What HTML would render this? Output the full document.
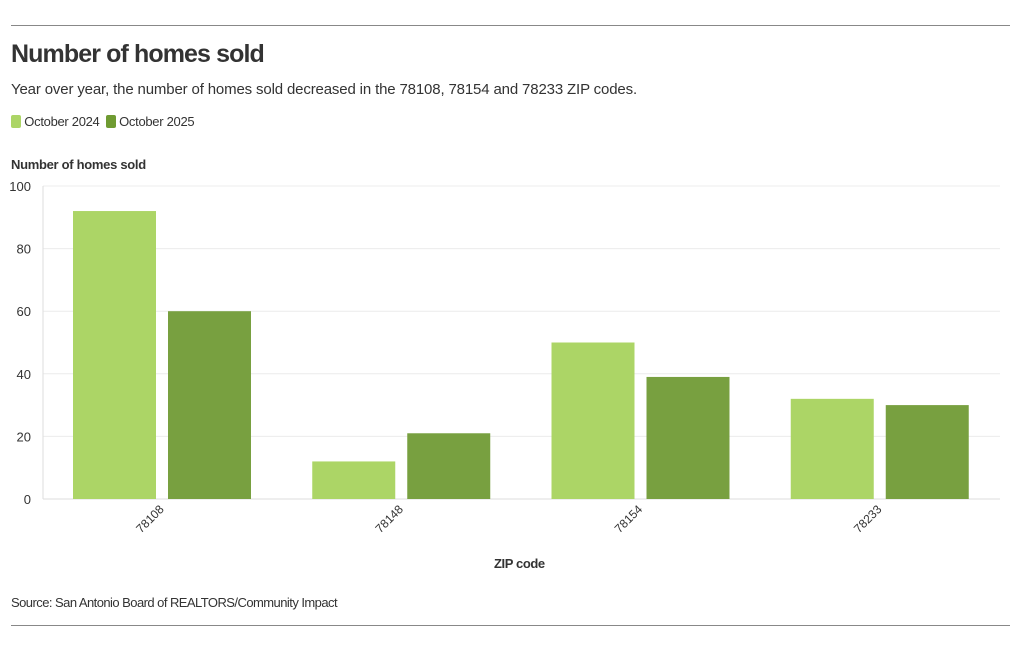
<!DOCTYPE html>
<html><head><meta charset="utf-8"><style>
body{margin:0;width:1020px;height:650px;background:#fff;font-family:"Liberation Sans",sans-serif;color:#333;position:relative;overflow:hidden}
.rule{position:absolute;left:11px;width:999px;height:1px;background:#888}
.t{position:absolute;white-space:nowrap}
</style></head><body>
<div class="rule" style="top:25px"></div>
<div class="t" style="left:11px;top:40px;font-size:25px;font-weight:bold;color:#333;letter-spacing:-0.9px">Number of homes sold</div>
<div class="t" style="left:11px;top:81px;font-size:15px;letter-spacing:-0.15px">Year over year, the number of homes sold decreased in the 78108, 78154 and 78233 ZIP codes.</div>
<div class="t" style="left:11px;top:114px;font-size:13px;letter-spacing:-0.3px">
<span><span style="display:inline-block;width:10px;height:13px;background:#acd566;border-radius:2px;vertical-align:-2px"></span> October 2024</span>
<span style="margin-left:3px"><span style="display:inline-block;width:10px;height:13px;background:#6f9b32;border-radius:2px;vertical-align:-2px"></span> October 2025</span></div>
<div class="t" style="left:11px;top:157px;font-size:13px;font-weight:bold;letter-spacing:-0.3px">Number of homes sold</div>
<svg id="chart" width="1020" height="650" style="position:absolute;left:0;top:0"></svg>
<div class="t" style="left:494px;top:556px;font-size:13px;font-weight:bold;letter-spacing:-0.4px">ZIP code</div>
<div class="t" style="left:11px;top:595px;font-size:13px;letter-spacing:-0.55px">Source: San Antonio Board of REALTORS/Community Impact</div>
<div class="rule" style="top:625px"></div>
<script>
const categories=["78108","78148","78154","78233"];
const values2024=[92,12,50,32];
const values2025=[60,21,39,30];
const yTicks=[0,20,40,60,80,100];
const NS="http://www.w3.org/2000/svg",svg=document.getElementById('chart');
const x0=43,x1=1000,yTop=186,yBot=499;
const y=v=>yBot-(v/100)*(yBot-yTop);
const gw=(x1-x0)/categories.length;
const bx=(i,s)=>x0+i*gw+30+s*95;
function mk(t,a){const e=document.createElementNS(NS,t);for(const k in a)e.setAttribute(k,a[k]);svg.appendChild(e);return e;}
yTicks.forEach(v=>{
 const l=mk('line',{x1:x0,x2:x1,y1:y(v),y2:y(v),stroke:v===0?'#ddd':'#ececec'});
 
 
 const t=mk('text',{x:31,y:y(v)+5,'text-anchor':'end','font-size':13,fill:'#333'});t.textContent=v;
 
 
});
mk('line',{x1:x0,x2:x0,y1:yTop,y2:yBot,stroke:'#ddd'});
categories.forEach((c,i)=>{
 [[values2024,'#acd566'],[values2025,'#78a040']].forEach(([arr,col],s)=>{
  const r=mk('rect',{x:bx(i,s),y:y(arr[i]),width:83,height:yBot-y(arr[i]),fill:col});
  
  
 });
 const cx=x0+i*gw+gw/2;
 const t=mk('text',{x:cx+2,y:510,'text-anchor':'end','font-size':12,fill:'#333',transform:`rotate(-45 ${cx+2} 510)`});
 t.textContent=c;
 
 
});
</script>
</body></html>
